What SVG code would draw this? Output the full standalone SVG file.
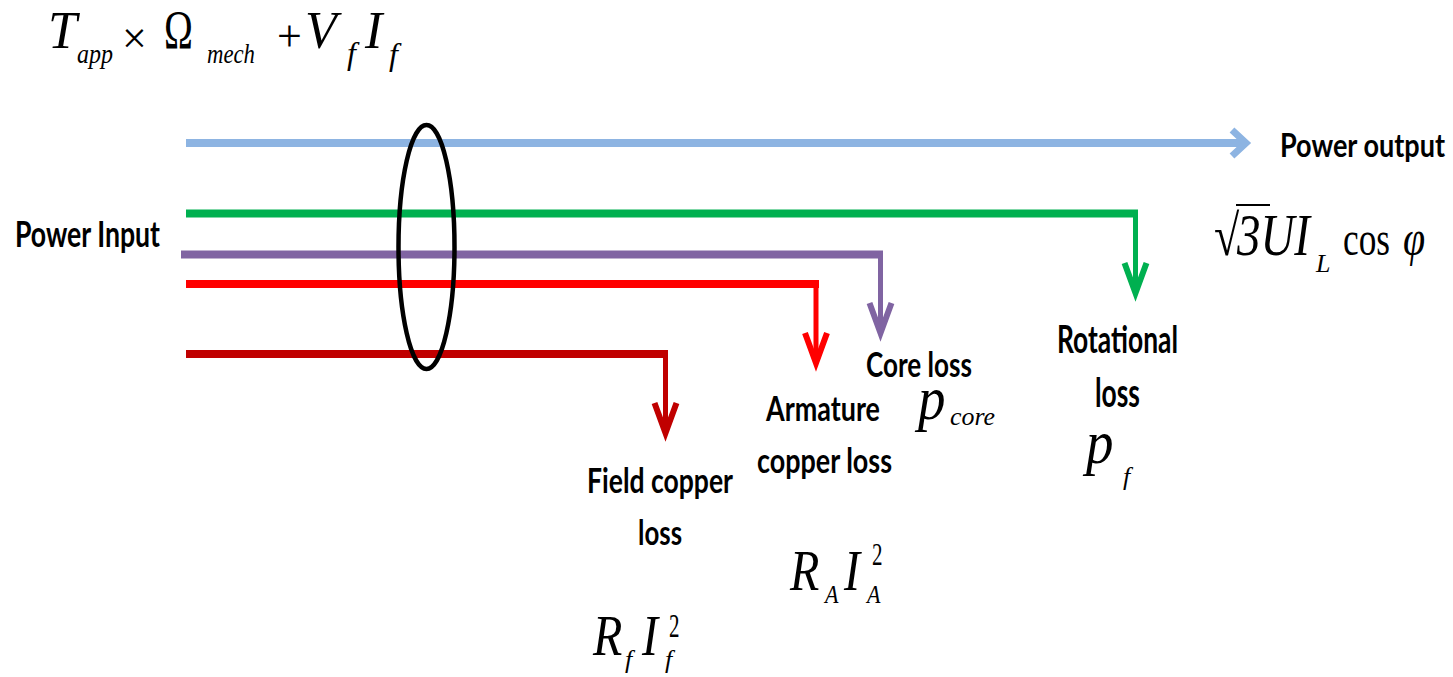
<svg xmlns="http://www.w3.org/2000/svg" width="1453" height="677" viewBox="0 0 1453 677">
<style>
.lbl{font-family:Lato,"Open Sans","Liberation Sans",sans-serif;font-weight:700;fill:#000}
.m{font-family:"Liberation Serif","Times New Roman",serif;font-style:italic;fill:#000}
.u{font-family:"Liberation Serif","Times New Roman",serif;font-style:normal;fill:#000}
.h{fill:none;stroke-width:8}
.v{fill:none;stroke-width:5}
</style>
<defs>
<marker id="aBlue" markerUnits="userSpaceOnUse" orient="auto" refX="0" refY="0" markerWidth="40" markerHeight="40" overflow="visible"><path d="M-14,-13 L0,0 L-14,13" fill="none" stroke="#8DB4E2" stroke-width="7"/></marker>
<marker id="aGreen" markerUnits="userSpaceOnUse" orient="auto" refX="0" refY="0" markerWidth="40" markerHeight="40" overflow="visible"><path d="M-30,-11 L0,0 L-30,11" fill="none" stroke="#00B050" stroke-width="6"/></marker>
<marker id="aPurple" markerUnits="userSpaceOnUse" orient="auto" refX="0" refY="0" markerWidth="40" markerHeight="40" overflow="visible"><path d="M-30,-11 L0,0 L-30,11" fill="none" stroke="#8064A2" stroke-width="6"/></marker>
<marker id="aRed" markerUnits="userSpaceOnUse" orient="auto" refX="0" refY="0" markerWidth="40" markerHeight="40" overflow="visible"><path d="M-30,-11 L0,0 L-30,11" fill="none" stroke="#FF0000" stroke-width="6"/></marker>
<marker id="aDark" markerUnits="userSpaceOnUse" orient="auto" refX="0" refY="0" markerWidth="40" markerHeight="40" overflow="visible"><path d="M-30,-11 L0,0 L-30,11" fill="none" stroke="#C00000" stroke-width="6"/></marker>
</defs>
<rect width="1453" height="677" fill="#fff"/>

<g id="connectors">
  <line class="h" x1="186" y1="143" x2="1246" y2="143" stroke="#8DB4E2" marker-end="url(#aBlue)"/>
  <line class="h" x1="186" y1="213.5" x2="1138" y2="213.5" stroke="#00B050"/>
  <line class="v" x1="1135.5" y1="210" x2="1135.5" y2="293" stroke="#00B050" marker-end="url(#aGreen)"/>
  <line class="h" x1="181" y1="254.5" x2="883" y2="254.5" stroke="#8064A2"/>
  <line class="v" x1="880.5" y1="251" x2="880.5" y2="333" stroke="#8064A2" marker-end="url(#aPurple)"/>
  <line class="h" x1="186" y1="284" x2="819" y2="284" stroke="#FF0000"/>
  <line class="v" x1="816" y1="280" x2="816" y2="363" stroke="#FF0000" marker-end="url(#aRed)"/>
  <line class="h" x1="186" y1="354" x2="668" y2="354" stroke="#C00000"/>
  <line class="v" x1="665.5" y1="350" x2="665.5" y2="433" stroke="#C00000" marker-end="url(#aDark)"/>
</g>

<g id="bundle">
  <ellipse cx="426.5" cy="247" rx="28" ry="122" fill="none" stroke="#000" stroke-width="4.5"/>
</g>

<g id="input-formula">
  <text class="m" x="48" y="48" font-size="52">T</text>
  <text class="m" x="77" y="63" font-size="28" textLength="36" lengthAdjust="spacingAndGlyphs">app</text>
  <text class="u" x="122" y="53" font-size="44">×</text>
  <text class="u" transform="translate(164,48) scale(0.72,1)" font-size="54">Ω</text>
  <text class="m" x="207" y="63" font-size="28" textLength="48" lengthAdjust="spacingAndGlyphs">mech</text>
  <text class="u" x="277" y="51" font-size="44">+</text>
  <text class="m" x="305" y="48" font-size="52">V</text>
  <text class="m" x="347" y="64" font-size="32">f</text>
  <text class="m" x="365" y="48" font-size="52">I</text>
  <text class="m" x="389" y="65" font-size="32">f</text>
</g>

<g id="power-input">
  <text class="lbl" transform="translate(15,247) scale(1,1.4)" font-size="26" textLength="145" lengthAdjust="spacingAndGlyphs">Power Input</text>
</g>

<g id="power-output">
  <text class="lbl" transform="translate(1280,157) scale(1,1.2)" font-size="27" textLength="165" lengthAdjust="spacingAndGlyphs">Power output</text>
  <text class="u" transform="translate(1214,255) scale(1,1.25)" font-size="46">√</text>
  <line x1="1236" y1="205" x2="1270" y2="205" stroke="#000" stroke-width="2"/>
  <text class="m" transform="translate(1237,255) scale(1,1.28)" font-size="47" textLength="73" lengthAdjust="spacingAndGlyphs">3UI</text>
  <text class="m" x="1316" y="272" font-size="26">L</text>
  <text class="u" transform="translate(1343,255) scale(1,1.35)" font-size="36" textLength="47" lengthAdjust="spacingAndGlyphs">cos</text>
  <text class="m" transform="translate(1403,255) scale(1,1.25)" font-size="40">φ</text>
</g>

<g id="rotational-loss">
  <text class="lbl" transform="translate(1057,353) scale(1,1.45)" font-size="26.5" textLength="121" lengthAdjust="spacingAndGlyphs">Rotational</text>
  <text class="lbl" transform="translate(1095,407) scale(1,1.45)" font-size="27" textLength="45" lengthAdjust="spacingAndGlyphs">loss</text>
  <text class="m" transform="translate(1086,463) scale(1,1.1)" font-size="55">p</text>
  <text class="m" x="1123" y="485" font-size="26">f</text>
</g>

<g id="core-loss">
  <text class="lbl" transform="translate(866,377) scale(1,1.25)" font-size="26.8" textLength="106" lengthAdjust="spacingAndGlyphs">Core loss</text>
  <text class="m" transform="translate(918,419) scale(1,1.1)" font-size="55">p</text>
  <text class="m" x="950" y="425" font-size="26" textLength="45" lengthAdjust="spacingAndGlyphs">core</text>
</g>

<g id="armature-copper-loss">
  <text class="lbl" transform="translate(766,421) scale(1,1.28)" font-size="26.8" textLength="114" lengthAdjust="spacingAndGlyphs">Armature</text>
  <text class="lbl" transform="translate(757,473) scale(1,1.28)" font-size="26.8" textLength="135" lengthAdjust="spacingAndGlyphs">copper loss</text>
  <text class="m" transform="translate(790,590) scale(1,1.17)" font-size="48">R</text>
  <text class="m" transform="translate(825,603) scale(1,1.1)" font-size="22">A</text>
  <text class="m" transform="translate(844,590) scale(1,1.17)" font-size="48">I</text>
  <text class="u" transform="translate(872,565) scale(1,1.55)" font-size="21">2</text>
  <text class="m" transform="translate(867,603) scale(1,1.1)" font-size="22">A</text>
</g>

<g id="field-copper-loss">
  <text class="lbl" transform="translate(587,493) scale(1,1.3)" font-size="27" textLength="146" lengthAdjust="spacingAndGlyphs">Field copper</text>
  <text class="lbl" transform="translate(638,545) scale(1,1.3)" font-size="27" textLength="44" lengthAdjust="spacingAndGlyphs">loss</text>
  <text class="m" transform="translate(593,655) scale(1,1.2)" font-size="48">R</text>
  <text class="m" x="625" y="668" font-size="26">f</text>
  <text class="m" transform="translate(642,655) scale(1,1.2)" font-size="48">I</text>
  <text class="u" transform="translate(669,637) scale(1,1.6)" font-size="21">2</text>
  <text class="m" x="665" y="668" font-size="26">f</text>
</g>
</svg>
